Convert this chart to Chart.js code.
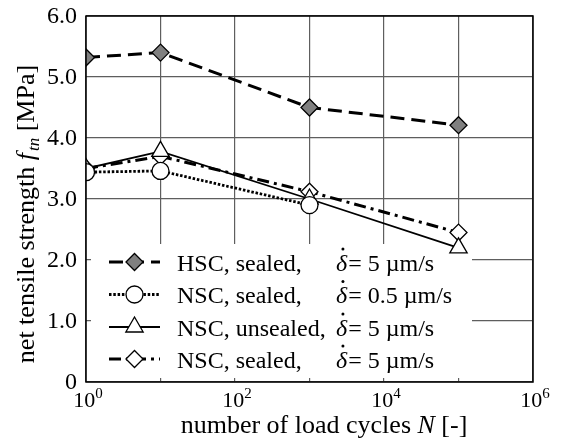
<!DOCTYPE html>
<html>
<head>
<meta charset="utf-8">
<script src="https://cdn.jsdelivr.net/npm/chart.js@4.4.1/dist/chart.umd.min.js"></script>
<style>
  html, body { margin: 0; padding: 0; background: #fff; }
  #wrap { width: 561px; height: 445px; }
</style>
</head>
<body>
<div id="wrap"><canvas id="chart" width="561" height="445"></canvas></div>
<script>
// number of load cycles N
const cycles = [1, 10, 1000, 100000];
// net tensile strength f_tn [MPa]
const hscSealed = [5.32, 5.40, 4.50, 4.21];        // HSC, sealed, 5 um/s
const nscSealedSlow = [3.44, 3.46, 2.90];          // NSC, sealed, 0.5 um/s
const nscUnsealed = [3.50, 3.78, 3.00, 2.20];      // NSC, unsealed, 5 um/s
const nscSealed = [3.50, 3.70, 3.12, 2.45];        // NSC, sealed, 5 um/s

const xGrid = [1, 10, 100, 1000, 10000, 100000, 1000000];
const xLabelValues = [1, 100, 10000, 1000000];
const xLabelExps = ['0', '2', '4', '6'];
const yTicks = [0, 1, 2, 3, 4, 5, 6];
const yTickLabels = ['0', '1.0', '2.0', '3.0', '4.0', '5.0', '6.0'];

const legendNames = ['HSC, sealed,', 'NSC, sealed,', 'NSC, unsealed,', 'NSC, sealed,'];
const legendRates = ['5', '0.5', '5', '5'];

const SERIF = "'Liberation Serif', 'Times New Roman', serif";

function toPoints(vals) {
    return vals.map((v, i) => ({ x: cycles[i], y: v }));
}

const datasets = [
    {
        label: 'HSC, sealed',
        data: toPoints(hscSealed),
        borderColor: '#000', borderWidth: 3, borderDash: [14, 7],
        pointStyle: 'rectRot', pointRadius: 8.5,
        pointBackgroundColor: '#808080', pointBorderColor: '#000', pointBorderWidth: 1.3,
        order: 3
    },
    {
        label: 'NSC, sealed, 0.5',
        data: toPoints(nscSealedSlow),
        borderColor: '#000', borderWidth: 2.8, borderDash: [2.5, 1.8],
        pointStyle: 'circle', pointRadius: 8.5,
        pointBackgroundColor: '#fff', pointBorderColor: '#000', pointBorderWidth: 1.3,
        order: 0
    },
    {
        label: 'NSC, unsealed',
        data: toPoints(nscUnsealed),
        borderColor: '#000', borderWidth: 1.8, borderDash: [],
        pointStyle: 'triangle', pointRadius: 10,
        pointBackgroundColor: '#fff', pointBorderColor: '#000', pointBorderWidth: 1.3,
        order: 1
    },
    {
        label: 'NSC, sealed, 5',
        data: toPoints(nscSealed),
        borderColor: '#000', borderWidth: 3, borderDash: [12, 5, 3, 5],
        pointStyle: 'rectRot', pointRadius: 8.5,
        pointBackgroundColor: '#fff', pointBorderColor: '#000', pointBorderWidth: 1.3,
        order: 2
    }
];

// white legend box sits on top of the grid, under the data
const legendBox = { x0: 91, x1: 472, y0: 244, y1: 378 };
const legendRows = [262, 294.5, 327, 359];

const decor = {
    id: 'decor',
    beforeDatasetsDraw(chart) {
        const ctx = chart.ctx;
        ctx.save();
        ctx.fillStyle = '#fff';
        ctx.fillRect(legendBox.x0, legendBox.y0, legendBox.x1 - legendBox.x0, legendBox.y1 - legendBox.y0);
        ctx.restore();
    },
    afterDatasetsDraw(chart) {
        const ctx = chart.ctx;
        // legend
        datasets.forEach((ds, i) => {
            const y = legendRows[i];
            ctx.save();
            ctx.strokeStyle = ds.borderColor;
            ctx.lineWidth = ds.borderWidth;
            ctx.setLineDash(ds.borderDash);
            ctx.beginPath();
            ctx.moveTo(109, y);
            ctx.lineTo(160, y);
            ctx.stroke();
            ctx.setLineDash([]);
            ctx.fillStyle = ds.pointBackgroundColor;
            ctx.strokeStyle = ds.pointBorderColor;
            ctx.lineWidth = ds.pointBorderWidth;
            Chart.helpers.drawPoint(ctx, {
                pointStyle: ds.pointStyle, radius: ds.pointRadius, rotation: 0,
                borderWidth: ds.pointBorderWidth
            }, 134.5, y);

            const base = y + 8.5;
            ctx.fillStyle = '#000';
            ctx.textAlign = 'left';
            ctx.textBaseline = 'alphabetic';
            ctx.font = '24px ' + SERIF;
            ctx.fillText(legendNames[i], 177, base);
            ctx.font = 'italic 24px ' + SERIF;
            ctx.fillText('\u03b4', 336, base);
            const dw = ctx.measureText('\u03b4').width;
            ctx.beginPath();
            ctx.arc(336 + dw * 0.62, base - 21.5, 1.5, 0, Math.PI * 2);
            ctx.fill();
            ctx.font = '24px ' + SERIF;
            ctx.fillText('= ' + legendRates[i] + ' \u00b5m/s', 336 + dw + 1, base);
            ctx.restore();
        });
    },
    afterDraw(chart) {
        const ctx = chart.ctx;
        const a = chart.chartArea;
        const xs = chart.scales.x, ys = chart.scales.y;
        ctx.save();
        // frame
        ctx.strokeStyle = '#000';
        ctx.lineWidth = 1.5;
        ctx.strokeRect(a.left, a.top, a.right - a.left, a.bottom - a.top);

        ctx.fillStyle = '#000';
        // y tick labels
        ctx.font = '24px ' + SERIF;
        ctx.textAlign = 'right';
        ctx.textBaseline = 'middle';
        yTicks.forEach((v, i) => {
            ctx.fillText(yTickLabels[i], a.left - 9, ys.getPixelForValue(v) + 1);
        });
        // x tick labels 10^n
        ctx.textAlign = 'left';
        ctx.textBaseline = 'alphabetic';
        xLabelValues.forEach((v, i) => {
            const px = xs.getPixelForValue(v);
            ctx.font = '22px ' + SERIF;
            const w1 = ctx.measureText('10').width;
            ctx.font = '15px ' + SERIF;
            const w2 = ctx.measureText(xLabelExps[i]).width;
            const x0 = px - (w1 + w2) / 2 + 2;
            ctx.font = '22px ' + SERIF;
            ctx.fillText('10', x0, 407);
            ctx.font = '15px ' + SERIF;
            ctx.fillText(xLabelExps[i], x0 + w1, 398);
        });

        // x title
        ctx.font = '26px ' + SERIF;
        const p1 = 'number of load cycles ', p2 = 'N', p3 = ' [-]';
        const w1 = ctx.measureText(p1).width;
        ctx.font = 'italic 26px ' + SERIF;
        const w2 = ctx.measureText(p2).width;
        ctx.font = '26px ' + SERIF;
        const w3 = ctx.measureText(p3).width;
        let tx = 324 - (w1 + w2 + w3) / 2;
        ctx.fillText(p1, tx, 433);
        ctx.font = 'italic 26px ' + SERIF;
        ctx.fillText(p2, tx + w1, 433);
        ctx.font = '26px ' + SERIF;
        ctx.fillText(p3, tx + w1 + w2, 433);

        // y title, rotated
        ctx.translate(34, 215);
        ctx.rotate(-Math.PI / 2);
        const parts = [
            { t: 'net tensile strength ', f: '26px ' + SERIF, dy: 0 },
            { t: 'f', f: 'italic 26px ' + SERIF, dy: 0 },
            { t: 'tn', f: 'italic 17px ' + SERIF, dy: 5 },
            { t: ' [MPa]', f: '26px ' + SERIF, dy: 0 }
        ];
        let total = 0;
        parts.forEach(p => { ctx.font = p.f; p.w = ctx.measureText(p.t).width; total += p.w; });
        let cx = -total / 2;
        parts.forEach(p => {
            ctx.font = p.f;
            ctx.fillText(p.t, cx, p.dy);
            cx += p.w + (p.t === 'f' ? 2 : 0);
        });
        ctx.restore();
    }
};

new Chart(document.getElementById('chart'), {
    type: 'line',
    data: { datasets: datasets },
    options: {
        responsive: false,
        devicePixelRatio: 1,
        animation: false,
        layout: { padding: { left: 86, right: 28, top: 16, bottom: 63 } },
        plugins: { legend: { display: false }, tooltip: { enabled: false } },
        elements: { line: { tension: 0, fill: false } },
        scales: {
            x: {
                type: 'logarithmic',
                min: 1, max: 1000000,
                afterBuildTicks: axis => { axis.ticks = xGrid.map(v => ({ value: v })); },
                ticks: { display: false },
                grid: { color: '#5e5e5e', lineWidth: 1.2, drawTicks: false },
                border: { display: false }
            },
            y: {
                type: 'linear',
                min: 0, max: 6,
                afterBuildTicks: axis => { axis.ticks = yTicks.map(v => ({ value: v })); },
                ticks: { display: false },
                grid: { color: '#5e5e5e', lineWidth: 1.2, drawTicks: false },
                border: { display: false }
            }
        }
    },
    plugins: [decor]
});
</script>
</body>
</html>
